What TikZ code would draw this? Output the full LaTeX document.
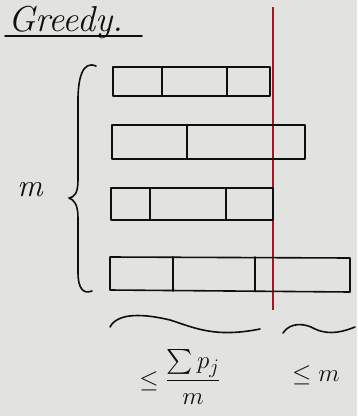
\documentclass[tikz,border=0pt]{standalone}
\usepackage{amsmath}
\definecolor{paper}{RGB}{226,226,224}
\definecolor{ink}{RGB}{15,15,15}
\definecolor{redline}{RGB}{170,20,30}
\begin{document}
\begin{tikzpicture}[x=1pt,y=-1pt,
  pen/.style={draw=ink,line width=1.6pt,line cap=round,line join=round},
  lbl/.style={text=ink,inner sep=0pt,font=\itshape}]
\fill[paper] (0,0) rectangle (357,416);
\useasboundingbox (0,0) rectangle (357,416);
% title
\node[lbl,anchor=base west,font=\fontsize{36}{36}\selectfont\itshape] (title) at (8,31) {Greedy.};
\draw[pen] (5,36) -- (142,36);
% red line
\draw[draw=redline,line width=1.8pt] (273,7) -- (273,310);
% row 1
\draw[pen] (113,67) rectangle (270,96);
\draw[pen] (162,67) -- (162,96) (227,67) -- (227,96);
% row 2
\draw[pen] (112,125) rectangle (305,159);
\draw[pen] (187,125) -- (187,159);
% row 3
\draw[pen] (111,188) rectangle (273,220);
\draw[pen] (150,188) -- (150,220) (226,188) -- (226,220);
% row 4
\draw[pen] (110,257) -- (350,258) -- (350,292) -- (110,290) -- cycle;
\draw[pen] (173,257) -- (173,291) (255,257) -- (255,291);
% brace
\draw[pen] (96,66) .. controls (82,60) and (78,80) .. (78,100) -- (78,180)
  .. controls (78,194) and (74,197) .. (69,198)
  .. controls (74,200) and (78,204) .. (78,218) -- (78,272)
  .. controls (78,290) and (84,294) .. (92,291);
\node[lbl,font=\fontsize{32}{32}\selectfont\itshape] (mlab) at (30,190) {m};
% squiggles
\draw[pen] (110,327) .. controls (118,312) and (145,314) .. (170,320)
  .. controls (195,328) and (215,338) .. (260,329);
\draw[pen] (283,333) .. controls (290,322) and (305,323) .. (315,329)
  .. controls (330,336) and (345,331) .. (355,327);
% labels
\node[lbl,font=\fontsize{32}{32}\selectfont] (sum) at (180,377) {$\leq \dfrac{\sum p_j}{m}$};
\node[lbl,anchor=west,font=\fontsize{32}{32}\selectfont] (pmax) at (292,375) {$\leq m$};
\end{tikzpicture}
\end{document}
